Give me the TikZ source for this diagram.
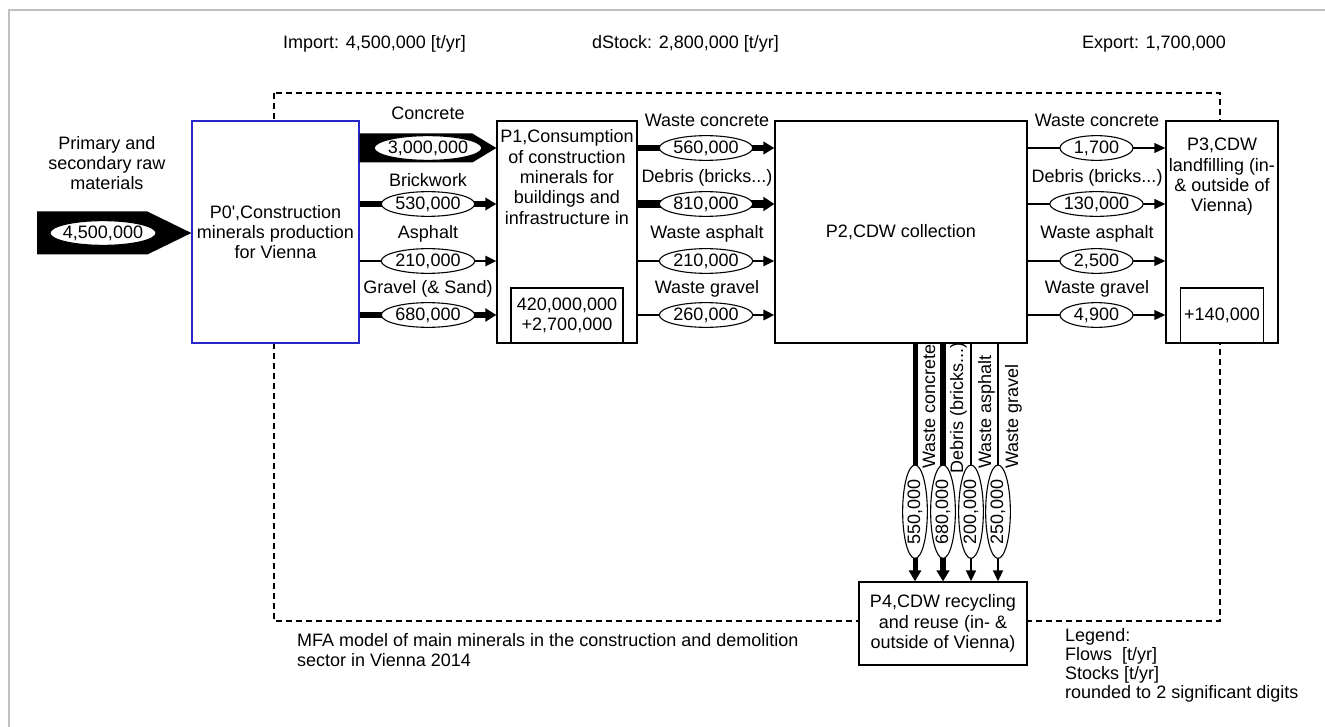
\documentclass[tikz,border=0pt]{standalone}
\usepackage{fontspec}
\setmainfont{Liberation Sans}
\usetikzlibrary{shapes.geometric,arrows.meta,calc}
\definecolor{pblue}{RGB}{40,40,200}
\begin{document}
\begin{tikzpicture}[x=1pt,y=-1pt,
  every node/.style={inner sep=0pt, font=\fontsize{18}{20.3}\selectfont},
  box/.style={draw, line width=1.3pt, fill=white, align=center},
  val/.style={ellipse, draw, line width=1.1pt, fill=white, inner xsep=0.5pt, inner ysep=1.3pt},
  sval/.style={val, minimum width=73pt},
  lab/.style={anchor=base},
  flow/.style={line width=#1, -{Triangle[length=11pt, width=9pt 0.6]}},
  vlab/.style={rotate=90, anchor=base west},
]
\useasboundingbox (0,0) rectangle (1325,727);
\draw[black!25, line width=2pt] (9,727) -- (9,10) -- (1325,10);

% top texts
\node[anchor=base west] (imp) at (283,49) {Import: 4,500,000 [t/yr]};
\node[anchor=base west] (dst) at (592,49) {dStock: 2,800,000 [t/yr]};
\node[anchor=base east] (exp) at (1226,49) {Export: 1,700,000};

% system boundary
\draw[dash pattern=on 6pt off 4pt, line width=1.2pt] (274,93) rectangle (1220,621);

% processes
\node[box, draw=pblue, minimum width=167pt, minimum height=222pt] (P0) at (275.5,232)
  {P0\textquotesingle,Construction\\minerals production\\for Vienna};
\node[box, minimum width=140pt, minimum height=222pt] (P1) at (567,232) {};
\node[align=center] (P1t) at (567,177) {P1,Consumption\\of construction\\minerals for\\buildings and\\infrastructure in};
\node[box, anchor=south, minimum width=112pt, minimum height=55pt] (S1) at (P1.south) {420,000,000\\+2,700,000};
\node[box, minimum width=252pt, minimum height=222pt] (P2) at (901,232) {P2,CDW collection};
\node[box, minimum width=112pt, minimum height=222pt] (P3) at (1222,232) {};
\node[align=center] (P3t) at (1222,177) {P3,CDW\\landfilling (in-\\\& outside of\\Vienna)};
\node[box, anchor=south, minimum width=83pt, minimum height=55pt] (S3) at (P3.south) {+140,000};
\node[box, minimum width=168pt, minimum height=83pt] (P4) at (943,623.5)
  {P4,CDW recycling\\and reuse (in- \&\\outside of Vienna)};

% rows
\coordinate (r1) at (0,148);
\coordinate (r2) at (0,204);
\coordinate (r3) at (0,261);
\coordinate (r4) at (0,315);

% input
\coordinate (src) at (37,233);
\fill ($(src)+(0,-21.5)$) -- ($(P0.west|-src)+(-44,-21.5)$) -- (P0.west|-src)
  -- ($(P0.west|-src)+(-44,21.5)$) -- ($(src)+(0,21.5)$) -- cycle;
\node[val, inner xsep=-2.5pt] (v0) at (103,233) {4,500,000};
\node[align=center] (srct) at (107,163) {Primary and\\secondary raw\\materials};

% P0 -> P1
\fill ($(P0.east|-r1)+(0,-14.5)$) -- ($(P1.west|-r1)+(-24,-14.5)$) -- (P1.west|-r1)
  -- ($(P1.west|-r1)+(-24,14.5)$) -- ($(P0.east|-r1)+(0,14.5)$) -- cycle;
\node[val, inner xsep=-2pt] (v1) at (428,148) {3,000,000};
\node[lab] (l1) at (428,120) {Concrete};
\draw[flow=5.3pt] (P0.east|-r2) -- node[val] (v2) {530,000} (P1.west|-r2);
\node[lab] (l2) at (428,187) {Brickwork};
\draw[flow=2pt] (P0.east|-r3) -- node[val] (v3) {210,000} (P1.west|-r3);
\node[lab] (l3) at (428,239) {Asphalt};
\draw[flow=6.5pt] (P0.east|-r4) -- node[val] (v4) {680,000} (P1.west|-r4);
\node[lab] (l4) at (428,294) {Gravel (\& Sand)};

% P1 -> P2
\draw[flow=5.5pt] (P1.east|-r1) -- node[val] (w1) {560,000} (P2.west|-r1);
\node[lab] (m1) at (707,127) {Waste concrete};
\draw[flow=8pt] (P1.east|-r2) -- node[val] (w2) {810,000} (P2.west|-r2);
\node[lab] (m2) at (707,183) {Debris (bricks...)};
\draw[flow=2pt] (P1.east|-r3) -- node[val] (w3) {210,000} (P2.west|-r3);
\node[lab] (m3) at (707,239) {Waste asphalt};
\draw[flow=2.2pt] (P1.east|-r4) -- node[val] (w4) {260,000} (P2.west|-r4);
\node[lab] (m4) at (707,294) {Waste gravel};

% P2 -> P3
\draw[flow=1.3pt] (P2.east|-r1) -- node[sval] (x1) {1,700} (P3.west|-r1);
\node[lab] (n1) at (1097,127) {Waste concrete};
\draw[flow=1.5pt] (P2.east|-r2) -- node[sval] (x2) {130,000} (P3.west|-r2);
\node[lab] (n2) at (1097,183) {Debris (bricks...)};
\draw[flow=1.3pt] (P2.east|-r3) -- node[sval] (x3) {2,500} (P3.west|-r3);
\node[lab] (n3) at (1097,239) {Waste asphalt};
\draw[flow=1.3pt] (P2.east|-r4) -- node[sval] (x4) {4,900} (P3.west|-r4);
\node[lab] (n4) at (1097,294) {Waste gravel};

% P2 -> P4
\coordinate (c1) at (915,0);
\coordinate (c2) at (943,0);
\coordinate (c3) at (971,0);
\coordinate (c4) at (998,0);
\draw[flow=5pt] (P2.south-|c1) -- node[val, rotate=90, pos=0.707] (y1) {550,000} (P4.north-|c1);
\draw[flow=6pt] (P2.south-|c2) -- node[val, rotate=90, pos=0.707] (y2) {680,000} (P4.north-|c2);
\draw[flow=1.6pt] (P2.south-|c3) -- node[val, rotate=90, pos=0.707] (y3) {200,000} (P4.north-|c3);
\draw[flow=1.6pt] (P2.south-|c4) -- node[val, rotate=90, pos=0.707] (y4) {250,000} (P4.north-|c4);
\node[vlab] (k1) at (935,469) {Waste concrete};
\node[vlab] (k2) at (963,474) {Debris (bricks...)};
\node[vlab] (k3) at (991,469) {Waste asphalt};
\node[vlab] (k4) at (1018,469) {Waste gravel};

% captions
\node[anchor=north west, align=left] (cap) at (297,633)
  {MFA model of main minerals in the construction and demolition\\sector in Vienna 2014};
\node[anchor=north west, align=left, font=\fontsize{18}{19}\selectfont] (leg) at (1065,628)
  {Legend:\\Flows\ \ [t/yr]\\Stocks [t/yr]\\rounded to 2 significant digits};
\end{tikzpicture}
\end{document}
